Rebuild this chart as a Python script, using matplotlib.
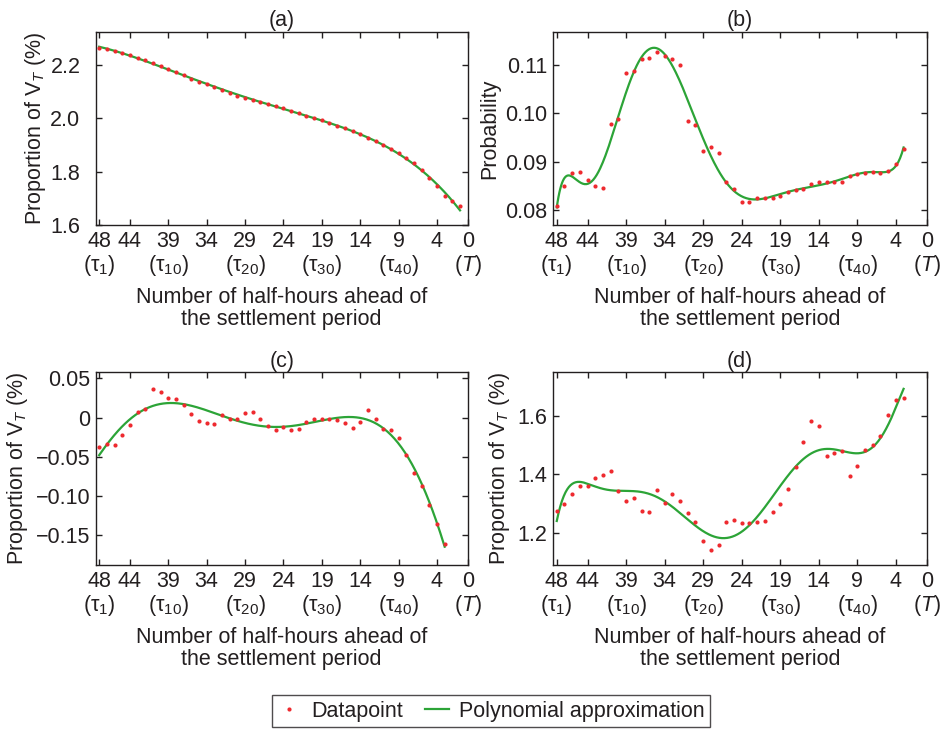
import numpy as np
import matplotlib
matplotlib.use("Agg")
import matplotlib.pyplot as plt
from matplotlib.lines import Line2D

plt.rcParams['font.family'] = ['Liberation Sans', 'DejaVu Sans']
plt.rcParams['mathtext.fontset'] = 'custom'
plt.rcParams['mathtext.rm'] = 'Liberation Sans'
plt.rcParams['mathtext.it'] = 'Liberation Sans:italic'
plt.rcParams['mathtext.bf'] = 'Liberation Sans:bold'

# ---------------- data ----------------
x_a = list(range(48, 0, -1))
y_a = [2.265, 2.259, 2.253, 2.246, 2.2375, 2.227, 2.219, 2.2075, 2.196, 2.185,
       2.1725, 2.161, 2.149, 2.137, 2.1275, 2.116, 2.106, 2.096, 2.085, 2.0775,
       2.070, 2.062, 2.055, 2.046, 2.038, 2.029, 2.019, 2.010, 2.001, 1.993,
       1.9825, 1.972, 1.9625, 1.9525, 1.941, 1.927, 1.914, 1.900, 1.885, 1.869,
       1.852, 1.831, 1.806, 1.778, 1.745, 1.707, 1.689, 1.671]

x_bcd = list(range(48, 2, -1))
y_b = [0.0809, 0.0850, 0.0877, 0.0879, 0.0863, 0.0850, 0.0846, 0.0977, 0.0988, 0.1083,
       0.1088, 0.1113, 0.1114, 0.1126, 0.1119, 0.1113, 0.1101, 0.0985, 0.0975, 0.0923,
       0.0931, 0.0919, 0.0857, 0.0843, 0.0816, 0.0816, 0.0824, 0.0824, 0.0824, 0.0828,
       0.0838, 0.0841, 0.0843, 0.0854, 0.0859, 0.0858, 0.0857, 0.0857, 0.0871, 0.0875,
       0.0876, 0.0878, 0.0877, 0.0881, 0.0895, 0.0927]
y_c = [-0.0381, -0.0339, -0.0347, -0.0225, -0.0097, 0.0072, 0.0106, 0.0364, 0.0331, 0.0250,
       0.0237, 0.0161, 0.0051, -0.0047, -0.0064, -0.0081, 0.0038, -0.0021, -0.0017, 0.0059,
       0.0076, -0.0017, -0.0110, -0.0153, -0.0119, -0.0165, -0.0148, -0.0059, -0.0021, -0.0021,
       -0.0013, -0.0030, -0.0072, -0.0127, -0.0055, 0.0093, -0.0013, -0.0140, -0.0157, -0.0267,
       -0.0475, -0.0703, -0.0869, -0.1110, -0.1360, -0.1606]
y_d = [1.276, 1.299, 1.331, 1.360, 1.359, 1.388, 1.399, 1.410, 1.343, 1.310,
       1.320, 1.275, 1.271, 1.345, 1.302, 1.334, 1.309, 1.268, 1.2385, 1.173,
       1.142, 1.159, 1.236, 1.243, 1.235, 1.232, 1.2385, 1.240, 1.270, 1.299,
       1.348, 1.423, 1.5105, 1.581, 1.564, 1.461, 1.473, 1.478, 1.395, 1.429,
       1.484, 1.500, 1.530, 1.602, 1.653, 1.660]

poly_degree = {'a': 4, 'b': 9, 'c': 6, 'd': 8}

xtick_vals = [48, 44, 39, 34, 29, 24, 19, 14, 9, 4, 0]
xtick_labels = ['48\n(τ$_{1}$)', '44', '39\n(τ$_{10}$)', '34', '29\n(τ$_{20}$)', '24',
                '19\n(τ$_{30}$)', '14', '9\n(τ$_{40}$)', '4', '0\n($T$)']

ytick_a = [1.6, 1.8, 2.0, 2.2]
ylab_a = ['1.6', '1.8', '2.0', '2.2']
ytick_b = [0.08, 0.09, 0.10, 0.11]
ylab_b = ['0.08', '0.09', '0.10', '0.11']
ytick_c = [-0.15, -0.10, -0.05, 0.0, 0.05]
ylab_c = ['\u22120.15', '\u22120.10', '\u22120.05', '0', '0.05']
ytick_d = [1.2, 1.4, 1.6]
ylab_d = ['1.2', '1.4', '1.6']

titles = ['(a)', '(b)', '(c)', '(d)']
ylabel_prop = 'Proportion of V$_{T}$ (%)'
ylabel_prob = 'Probability'
xlabel = 'Number of half-hours ahead of\nthe settlement period'

# ---------------- style ----------------
FS = 15.5
TXT = '#231f20'
RED = '#ee2a2f'
GREEN = '#2ca437'

W, H = 941, 731
fig = plt.figure(figsize=(W / 100, H / 100), dpi=100)

def frac(l, r, t, b):
    return [l / W, 1 - b / H, (r - l) / W, (b - t) / H]

panels = [
    dict(key='a', rect=frac(95.7, 467.7, 31.7, 225), x=x_a, y=y_a, yt=ytick_a, yl=ylab_a,
         ylim=(1.6, 2.325), ylabel=ylabel_prop, ypad=11, lpad=2),
    dict(key='b', rect=frac(553.3, 926.7, 31.7, 225), x=x_bcd, y=y_b, yt=ytick_b, yl=ylab_b,
         ylim=(0.0769, 0.1169), ylabel=ylabel_prob, ypad=4, lpad=4),
    dict(key='c', rect=frac(95.7, 467.7, 372.3, 565), x=x_bcd, y=y_c, yt=ytick_c, yl=ylab_c,
         ylim=(-0.188, 0.0577), ylabel=ylabel_prop, ypad=4, lpad=4),
    dict(key='d', rect=frac(553.3, 926.7, 372.3, 565), x=x_bcd, y=y_d, yt=ytick_d, yl=ylab_d,
         ylim=(1.09, 1.748), ylabel=ylabel_prop, ypad=4, lpad=4),
]

for p, title in zip(panels, titles):
    ax = fig.add_axes(p['rect'])
    xs = np.array(p['x'], dtype=float)
    ys = np.array(p['y'], dtype=float)
    fit = np.polynomial.Polynomial.fit(xs, ys, poly_degree[p['key']])
    xf = np.linspace(xs.min(), xs.max(), 400)
    ax.plot(xf, fit(xf), color=GREEN, lw=1.6, zorder=2)
    ax.plot(xs, ys, 'o', color=RED, ms=3.0, mew=0, zorder=3)
    ax.set_xlim(48.45, 0)
    ax.set_ylim(*p['ylim'])
    ax.set_xticks(xtick_vals)
    ax.set_xticklabels(xtick_labels)
    ax.set_yticks(p['yt'])
    ax.set_yticklabels(p['yl'])
    ax.tick_params(direction='in', top=True, right=True, length=4, width=1,
                   labelsize=FS, colors=TXT, pad=4)
    ax.tick_params(axis='y', pad=p['ypad'])
    for lab in ax.get_xticklabels():
        lab.set_linespacing(1.1)
    for s in ax.spines.values():
        s.set_linewidth(1.0)
        s.set_color(TXT)
    ax.set_title(title, fontsize=FS, color=TXT, pad=4)
    ax.set_ylabel(p['ylabel'], fontsize=FS, color=TXT, labelpad=p['lpad'])
    ax.set_xlabel(xlabel, fontsize=FS, color=TXT, labelpad=6, linespacing=1.1)

handles = [Line2D([], [], marker='o', ls='none', color=RED, ms=3.0, mew=0),
           Line2D([], [], color=GREEN, lw=1.6)]
leg = fig.legend(handles, ['Datapoint', 'Polynomial approximation'], loc='center',
                 bbox_to_anchor=(491 / W, 1 - 711 / H), ncol=2, fontsize=FS,
                 frameon=True, fancybox=False, edgecolor=TXT, handlelength=1.1,
                 handletextpad=0.5, columnspacing=1.0, borderpad=0.25)
leg.get_frame().set_linewidth(1.0)
for t in leg.get_texts():
    t.set_color(TXT)

fig.savefig('out.png', dpi=100)
